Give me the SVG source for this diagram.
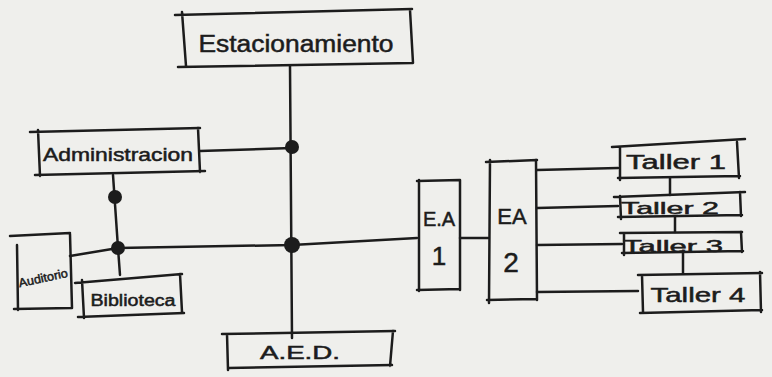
<svg xmlns="http://www.w3.org/2000/svg" width="772" height="377" viewBox="0 0 772 377">
<style>
.b{fill:none;stroke:#1c1c1c;stroke-width:2.5;stroke-linejoin:round;stroke-linecap:round}
.c{fill:none;stroke:#1c1c1c;stroke-width:2.5;stroke-linecap:round}
.d{fill:#1c1c1c}
text{font-family:"Liberation Sans",Arial,sans-serif;fill:#1c1c1c;text-anchor:middle;stroke:#1c1c1c;stroke-width:0.5}
</style>
<rect width="772" height="377" fill="#efefec"/>
<g id="connectors">
<path class="c" d="M290 66 L292 338"/>
<path class="c" d="M200 151 L292 148"/>
<path class="c" d="M113 175 L118 248"/>
<path class="c" d="M118 248 L120 275"/>
<path class="c" d="M70 256 L118 248 L292 245 L417 238"/>
<path class="c" d="M460 238 L488 238"/>
<path class="c" d="M537 170 L618 168"/>
<path class="c" d="M537 208 L618 206"/>
<path class="c" d="M537 245 L622 244"/>
<path class="c" d="M537 292 L638 291"/>
<path class="c" d="M670 178 L670 195"/>
<path class="c" d="M675 217 L675 232"/>
<path class="c" d="M683 253 L683 273"/>
<circle class="d" cx="292" cy="147" r="7"/>
<circle class="d" cx="292" cy="245" r="8"/>
<circle class="d" cx="115" cy="197" r="7"/>
<circle class="d" cx="118" cy="248" r="7"/>
</g>
<g id="estacionamiento">
<path class="b" d="M175 15 L412 9 M182 12 L186 66 M178 67 L412 63 M410 10 L413 63"/>
<text x="296" y="52" font-size="23" textLength="195" lengthAdjust="spacingAndGlyphs">Estacionamiento</text>
</g>
<g id="administracion">
<path class="b" d="M30 132 L200 128 M38 130 L40 176 M35 175 L205 171 M198 128 L200 172"/>
<text x="118" y="161" font-size="18" textLength="150" lengthAdjust="spacingAndGlyphs">Administracion</text>
</g>
<g id="auditorio">
<path class="b" d="M10 236 L70 233 M17 245 L18 310 M14 309 L72 308 M70 234 L72 308"/>
<text x="44" y="282" font-size="12" textLength="50" lengthAdjust="spacingAndGlyphs" transform="rotate(-12 44 282)">Auditorio</text>
</g>
<g id="biblioteca">
<path class="b" d="M75 283 L182 274 M82 280 L84 318 M78 317 L184 313 M180 274 L182 312"/>
<text x="133" y="306" font-size="16" textLength="85" lengthAdjust="spacingAndGlyphs">Biblioteca</text>
</g>
<g id="aed">
<path class="b" d="M222 334 L395 331 M227 334 L228 370 M228 368 L392 365 M393 331 L390 366"/>
<text x="300" y="359" font-size="18" textLength="80" lengthAdjust="spacingAndGlyphs">A.E.D.</text>
</g>
<g id="ea1">
<path class="b" d="M417 181 L460 180 M419 180 L419 291 M417 290 L460 289 M460 180 L460 290"/>
<text x="439" y="226" font-size="20">E.A</text>
<text x="439" y="265" font-size="26">1</text>
</g>
<g id="ea2">
<path class="b" d="M486 162 L537 160 M490 160 L489 303 M487 300 L537 299 M536 160 L537 300"/>
<text x="512" y="224" font-size="22">EA</text>
<text x="511" y="272" font-size="28">2</text>
</g>
<g id="taller1">
<path class="b" d="M612 147 L745 139 M620 148 L620 180 M618 178 L740 176 M737 142 L739 178"/>
<text x="676" y="169" font-size="20" textLength="100" lengthAdjust="spacingAndGlyphs">Taller 1</text>
</g>
<g id="taller2">
<path class="b" d="M614 197 L745 192 M620 196 L621 219 M618 217 L742 215 M740 192 L741 216"/>
<text x="670" y="214" font-size="17" textLength="98" lengthAdjust="spacingAndGlyphs">Taller 2</text>
</g>
<g id="taller3">
<path class="b" d="M620 233 L742 232 M624 233 L624 255 M622 253 L743 251 M741 232 L742 252"/>
<text x="673" y="252" font-size="17" textLength="100" lengthAdjust="spacingAndGlyphs">Taller 3</text>
</g>
<g id="taller4">
<path class="b" d="M638 275 L762 273 M642 275 L643 312 M640 313 L762 310 M760 272 L761 312"/>
<text x="698" y="302" font-size="21" textLength="95" lengthAdjust="spacingAndGlyphs">Taller 4</text>
</g>
</svg>
